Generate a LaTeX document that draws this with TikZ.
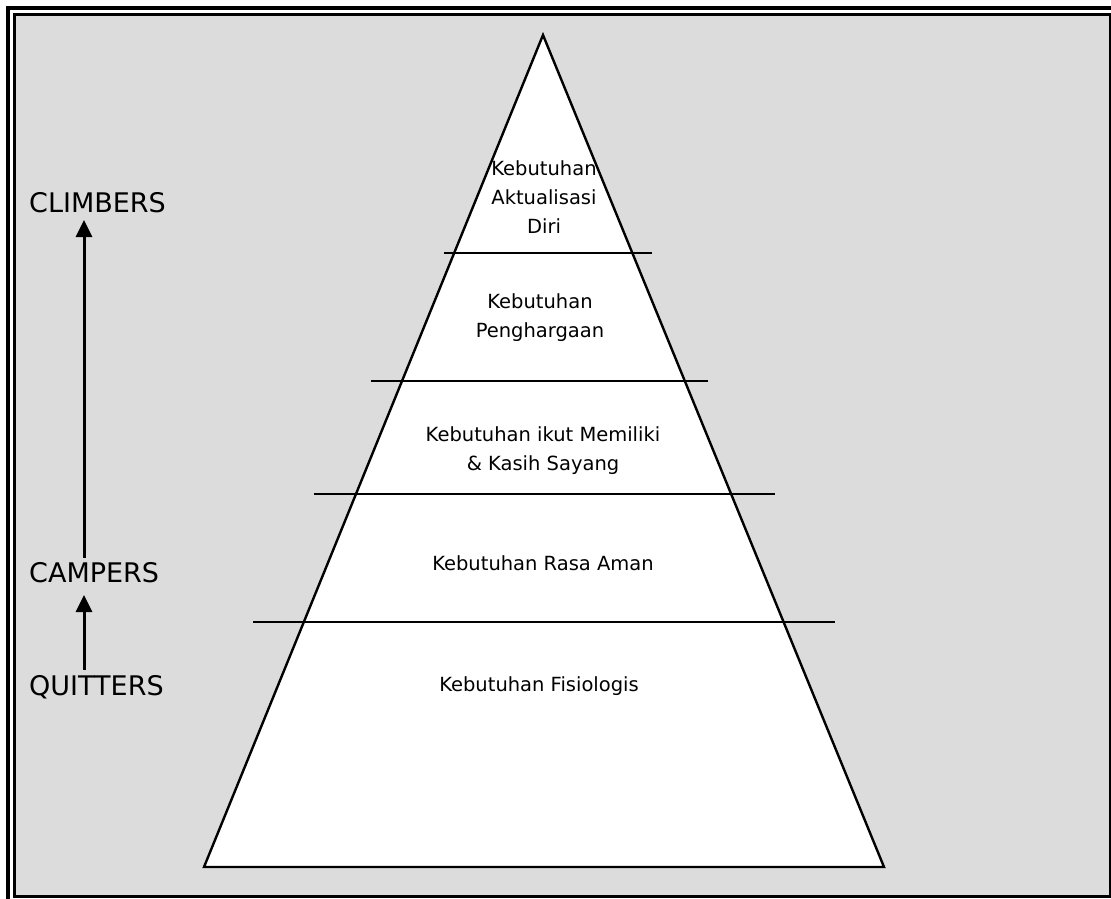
\documentclass[tikz,border=0pt]{standalone}
\usepackage{fontspec}
\setmainfont{DejaVu Sans}
\usetikzlibrary{arrows.meta}
\definecolor{bg}{HTML}{DCDCDC}
\tikzset{
  lvl/.style={draw=black, line width=2.2pt},
  plabel/.style={font=\fontsize{19.5}{29}\selectfont, align=center, inner sep=0pt},
  slabel/.style={font=\fontsize{27}{30}\selectfont, anchor=west, inner sep=0pt},
  uparrow/.style={draw=black, line width=3pt, -{Triangle[length=17pt,width=16pt]}}
}
\begin{document}
\begin{tikzpicture}[x=1pt,y=-1pt]
\useasboundingbox (0,0) rectangle (1111,898);
\fill[white] (0,0) rectangle (1111,898);
% double frame
\draw[line width=3.5pt] (8,8) rectangle (1125,910);
\fill[bg] (14,14) rectangle (1110,896);
\draw[line width=3pt] (14,14) rectangle (1110,896);
% pyramid
\coordinate (apex) at (543,35);
\coordinate (bl) at (204,867);
\coordinate (br) at (884,867);
\filldraw[fill=white, draw=black, line width=2.4pt, line join=miter] (apex) -- (bl) -- (br) -- cycle;
% level lines
\coordinate (l1a) at (444,253); \coordinate (l1b) at (652,253);
\coordinate (l2a) at (371,381); \coordinate (l2b) at (708,381);
\coordinate (l3a) at (314,494); \coordinate (l3b) at (775,494);
\coordinate (l4a) at (253,622); \coordinate (l4b) at (835,622);
\draw[lvl] (l1a) -- (l1b);
\draw[lvl] (l2a) -- (l2b);
\draw[lvl] (l3a) -- (l3b);
\draw[lvl] (l4a) -- (l4b);
% level labels
\node[plabel] (t1) at (544,197) {Kebutuhan\\Aktualisasi\\Diri};
\node[plabel] (t2) at (540,318) {Kebutuhan\\Penghargaan};
\node[plabel] (t3) at (543,451) {Kebutuhan ikut Memiliki\\\& Kasih Sayang};
\node[plabel] (t4) at (543,563) {Kebutuhan Rasa Aman};
\node[plabel] (t5) at (539,686) {Kebutuhan Fisiologis};
% side labels
\node[slabel] (climb) at (29,203) {CLIMBERS};
\node[slabel] (camp) at (29,573) {CAMPERS};
\node[slabel] (quit) at (29,687) {QUITTERS};
\coordinate (a1s) at (84,558);
\coordinate (a1e) at (84,220);
\coordinate (a2s) at (84,670);
\coordinate (a2e) at (84,595);
\draw[uparrow] (a1s) -- (a1e);
\draw[uparrow] (a2s) -- (a2e);
\end{tikzpicture}
\end{document}
